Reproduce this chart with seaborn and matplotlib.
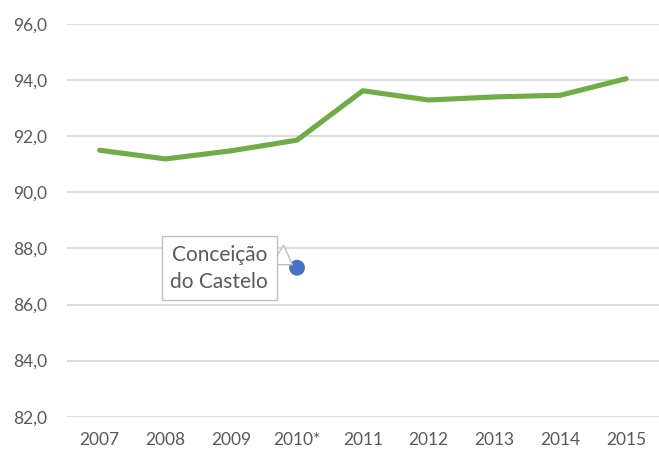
import matplotlib
matplotlib.use("Agg")
import matplotlib.pyplot as plt
import seaborn as sns
import pandas as pd
from matplotlib.ticker import FuncFormatter, MultipleLocator

years = ["2007", "2008", "2009", "2010*", "2011", "2012", "2013", "2014", "2015"]
values = [91.5, 91.19, 91.48, 91.86, 93.62, 93.29, 93.40, 93.46, 94.05]
point_year = ["2010*"]
point_value = [87.31]
point_label = "Conceição\ndo Castelo"

sns.set_theme(style="white")
plt.rcParams['font.family'] = ['Lato', 'DejaVu Sans']

df = pd.DataFrame({"year": years, "value": values})
dp = pd.DataFrame({"year": point_year, "value": point_value})

fig = plt.figure(figsize=(6.59, 4.53), dpi=100)
ax = fig.add_axes([66.7/659, 1-416.7/453, 1-66.7/659, (416.7-24)/453])

sns.lineplot(data=df, x="year", y="value", sort=False, color="#70AD47",
             linewidth=3.7, ax=ax, solid_capstyle="round", zorder=3)
sns.scatterplot(data=dp, x="year", y="value", color="#4472C4", s=130,
                edgecolor="none", ax=ax, zorder=4)

ax.set_ylim(82, 96)
ax.set_xlim(-0.5, len(years) - 0.5)
ax.yaxis.set_major_locator(MultipleLocator(2))
ax.yaxis.set_major_formatter(FuncFormatter(lambda v, p: f"{v:.1f}".replace(".", ",")))
ax.grid(axis="y", color="#D9D9D9", linewidth=1.3)
ax.set_axisbelow(True)
for s in ax.spines.values():
    s.set_visible(False)
ax.set_xlabel("")
ax.set_ylabel("")
ax.tick_params(axis="y", length=0, pad=14, labelsize=12.5, labelcolor="#595959")
ax.tick_params(axis="x", length=0, pad=11, labelsize=12.5, labelcolor="#595959")

ax.annotate(point_label, xy=(point_year[0], point_value[0]), xytext=(-56, -0.5),
            textcoords="offset points", ha="center", va="center",
            fontsize=15, color="#595959", linespacing=1.4,
            bbox=dict(boxstyle="square,pad=0.42", fc="white", ec="#BFBFBF", lw=1),
            arrowprops=dict(arrowstyle="wedge,tail_width=1.1", fc="white", ec="#BFBFBF",
                            lw=1, relpos=(1, 0.92), shrinkA=0, shrinkB=4),
            zorder=5)

fig.savefig("out.png", dpi=100)
